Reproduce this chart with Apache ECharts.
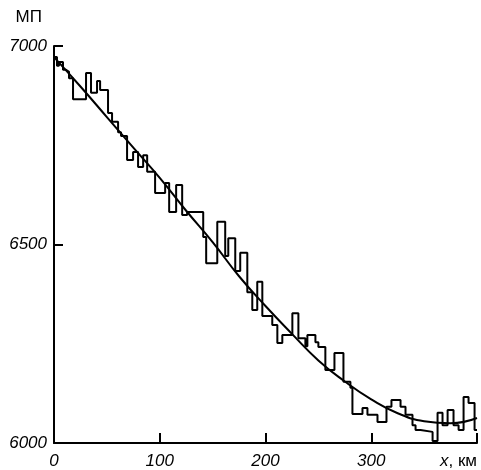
<!DOCTYPE html>
<html>
<head>
<meta charset="utf-8">
<script src="https://cdn.jsdelivr.net/npm/echarts@6/dist/echarts.min.js"></script>
<style>
  html, body { margin: 0; padding: 0; background: #fff; }
  #chart { width: 481px; height: 470px; }
</style>
</head>
<body>
<div id="chart"></div>
<script>
// step profile: left edge of each step (km) and its level (MP); last pair closes the line
const stepX = [0, 2.8, 4.7, 8.5, 11.4, 14.2, 18.0, 30.3, 35.0, 40.7, 43.6, 51.1, 54.9, 60.6, 63.4,
  69.1, 74.8, 79.5, 84.3, 88.1, 95.6, 105.1, 108.9, 115.5, 121.2, 125.9, 141.1, 143.9, 154.4,
  161.9, 164.8, 171.4, 176.1, 182.8, 187.5, 192.2, 197.0, 206.4, 211.2, 215.9, 225.4, 231.1,
  237.7, 239.6, 247.2, 250.0, 256.6, 265.2, 273.7, 280.3, 282.2, 291.7, 296.4, 305.9, 314.4,
  319.1, 327.7, 332.4, 339.0, 341.9, 346.6, 358.0, 362.7, 367.4, 372.2, 377.8, 382.6, 387.3,
  392.0, 397.7, 400];
const stepY = [6972, 6950, 6960, 6940, 6935, 6919, 6866, 6932, 6882, 6912, 6889, 6831, 6809, 6783, 6773,
  6713, 6733, 6695, 6725, 6683, 6630, 6655, 6582, 6650, 6574, 6582, 6519, 6453, 6557,
  6471, 6516, 6433, 6479, 6380, 6335, 6406, 6320, 6297, 6252, 6272, 6327, 6264,
  6244, 6272, 6254, 6242, 6184, 6227, 6154, 6139, 6073, 6088, 6071, 6053, 6091,
  6108, 6091, 6071, 6045, 6033, 6028, 6005, 6076, 6045, 6083, 6045, 6033, 6116,
  6101, 6033, 6033];

// smooth trend curve
const curveX = [0, 25, 50, 75, 100, 125, 150, 175, 200, 225, 250, 275, 300, 325, 350, 375, 400];
const curveY = [6972, 6898, 6821, 6744, 6668, 6585, 6506, 6420, 6345, 6275, 6208, 6155, 6110, 6075, 6055, 6050, 6063];

const xMin = 0, xMax = 400, xStep = 100;
const yMin = 6000, yMax = 7000, yStep = 500;

const chart = echarts.init(document.getElementById('chart'));
const axisColor = '#000';
const font = '"Liberation Sans", Arial, sans-serif';

chart.setOption({
  animation: false,
  grid: { left: 54, right: 4, top: 46, bottom: 27 },
  xAxis: {
    type: 'value',
    min: xMin, max: xMax, interval: xStep,
    splitLine: { show: false },
    axisLine: { lineStyle: { color: axisColor, width: 2 } },
    axisTick: { inside: true, length: 10, lineStyle: { color: axisColor, width: 2 } },
    axisLabel: {
      color: axisColor, fontSize: 17, fontStyle: 'italic', fontFamily: font, margin: 10,
      alignMaxLabel: 'right',
      formatter: v => v === xMax ? '{i|x}{n|, км}' : String(v),
      rich: {
        i: { fontStyle: 'italic', fontSize: 17, fontFamily: font, color: axisColor },
        n: { fontStyle: 'normal', fontSize: 17, fontFamily: font, color: axisColor }
      }
    }
  },
  yAxis: {
    type: 'value',
    min: yMin, max: yMax, interval: yStep,
    name: 'МП',
    nameLocation: 'end',
    nameGap: 20,
    nameTextStyle: { color: axisColor, fontSize: 17, fontFamily: font, align: 'right', padding: [0, 12, 0, 0] },
    splitLine: { show: false },
    axisLine: { show: true, lineStyle: { color: axisColor, width: 2 } },
    axisTick: { show: true, inside: true, length: 9, lineStyle: { color: axisColor, width: 2 } },
    axisLabel: {
      color: axisColor, fontSize: 17, fontStyle: 'italic', fontFamily: font, margin: 7,
      formatter: v => String(v)
    }
  },
  series: [
    {
      type: 'line',
      step: 'end',
      symbol: 'none',
      data: stepX.map((x, i) => [x, stepY[i]]),
      lineStyle: { color: '#000', width: 2 }
    },
    {
      type: 'line',
      smooth: true,
      symbol: 'none',
      data: curveX.map((x, i) => [x, curveY[i]]),
      lineStyle: { color: '#000', width: 2 }
    }
  ]
});
</script>
</body>
</html>
